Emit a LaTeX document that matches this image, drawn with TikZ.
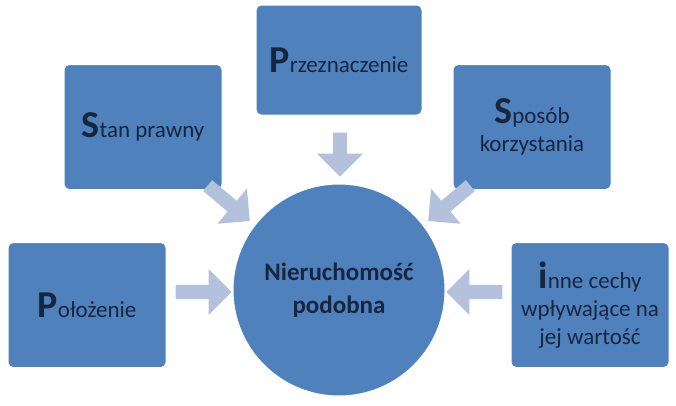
\documentclass[tikz,border=0pt]{standalone}
\usepackage{fontspec}
\setmainfont{Carlito}
\usetikzlibrary{shapes.arrows}
\definecolor{boxblue}{HTML}{4F81BD}
\definecolor{arrowgrey}{HTML}{B3C1DC}
\definecolor{inktext}{HTML}{17263F}
\tikzset{
  featbox/.style={draw=white, line width=1pt, fill=boxblue, rounded corners=5pt, minimum width=158pt, minimum height=125pt, align=center, text=inktext, font=\fontsize{23}{28}\selectfont},
  blockarrow/.style={single arrow, fill=arrowgrey, draw=none, minimum width=46pt, single arrow head extend=8pt, minimum height=#1}
}
\newcommand{\initial}[1]{{\bfseries\fontsize{38}{28}\selectfont #1}}
\begin{document}
\begin{tikzpicture}[x=1pt, y=-1pt]
    \useasboundingbox (0,0) rectangle (676,405);
    \node [draw=white, line width=1pt, circle, fill=boxblue, minimum size=212pt, align=center, text=inktext, font=\bfseries\fontsize{25}{33}\selectfont] (center) at (339,290) {Nieruchomość\\podobna};

    \node [featbox] (stan) at (143,127) {\initial{S}tan prawny};
    \node [featbox, minimum width=166pt, minimum height=110pt] (przezn) at (339,60) {\initial{P}rzeznaczenie};
    \node [featbox] (sposob) at (532,127) {\initial{S}posób\\korzystania};
    \node [featbox] (polozenie) at (87,305) {\initial{P}ołożenie};
    \node [featbox] (inne) at (590,305) {\initial{i}nne cechy\\wpływające na\\jej wartość};

    % block arrows
    \node [blockarrow=55pt, rotate=-40] (arrstan) at (226,201) {};
    \node [blockarrow=44pt, rotate=-90] (arrprzezn) at (340,151) {};
    \node [blockarrow=55pt, rotate=-140] (arrsposob) at (452,201) {};
    \node [blockarrow=56pt, rotate=0] (arrpolozenie) at (200,292) {};
    \node [blockarrow=56pt, rotate=180] (arrinne) at (478,292) {};
\end{tikzpicture}
\end{document}
